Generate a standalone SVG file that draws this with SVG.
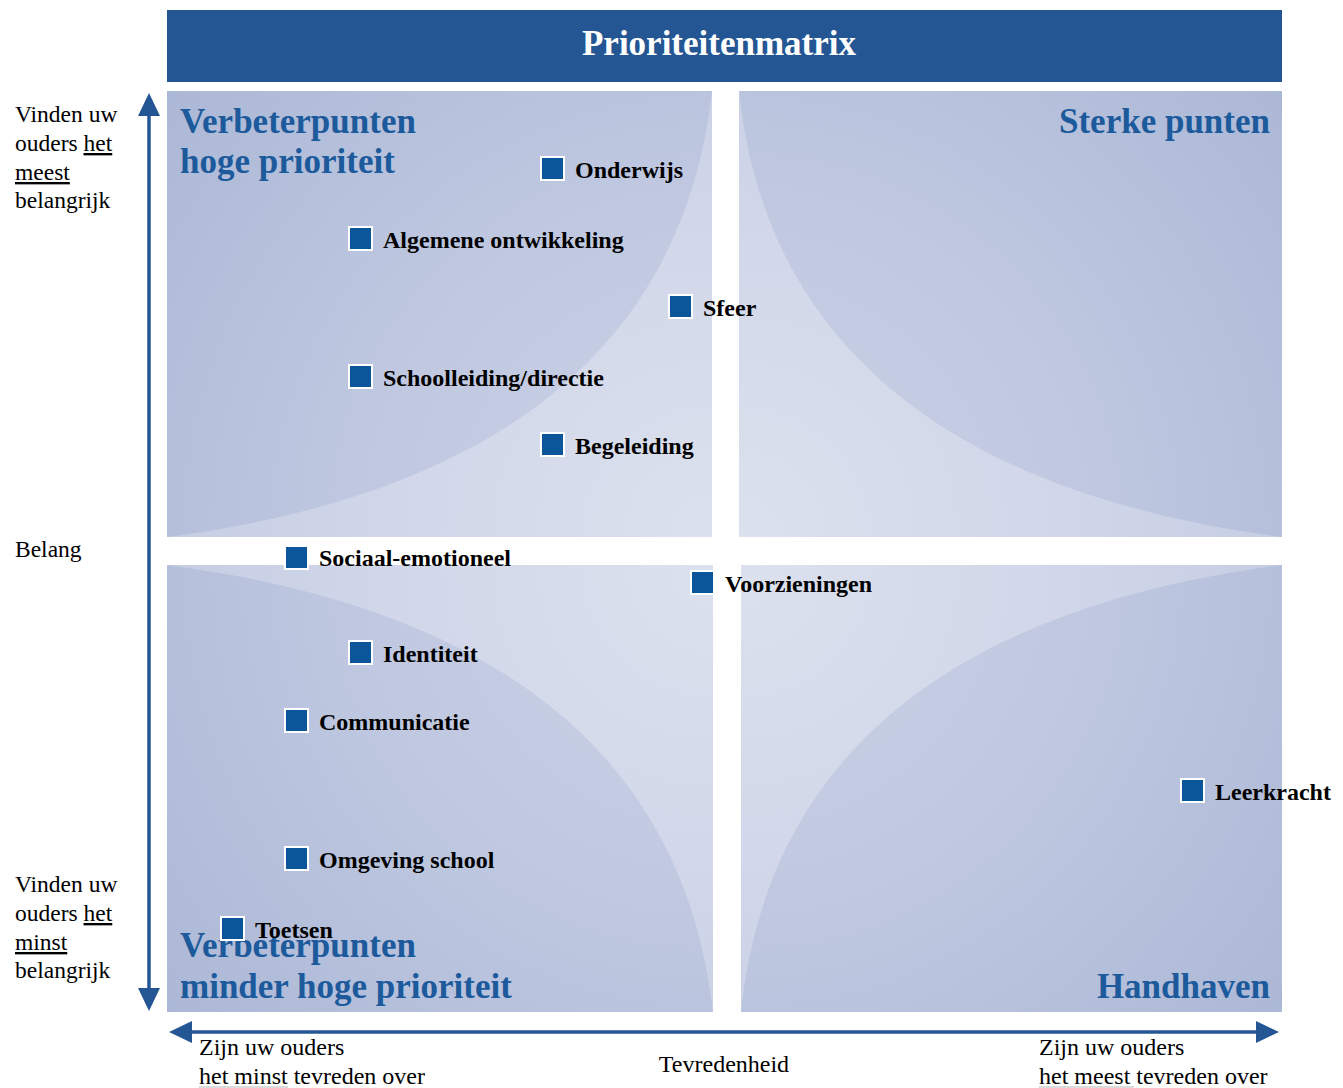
<svg xmlns="http://www.w3.org/2000/svg" width="1343" height="1088" viewBox="0 0 1343 1088">
<style>
  .txt { font-family: "Liberation Serif", "Times New Roman", serif; font-size: 23.5px; fill: #000; }
  .lbl { font-family: "Liberation Serif", "Times New Roman", serif; font-size: 24px; font-weight: bold; fill: #000; }
  .qt { font-family: "Liberation Serif", "Times New Roman", serif; font-size: 35px; font-weight: bold; fill: #1c5a9c; }
  .mk { fill: #0b559a; stroke: #ffffff; stroke-width: 2; }
  .axis { stroke: #245694; stroke-width: 3.5; fill: none; }
  .ul { text-decoration: underline; }
  .gl { stroke: #b8b8b8; stroke-width: 1.2; }
</style>
<defs>
  <marker id="ah" markerUnits="userSpaceOnUse" markerWidth="24" markerHeight="24" viewBox="0 0 24 24" refX="1" refY="12" orient="auto-start-reverse">
    <path d="M0,1 L23,12 L0,23 Z" fill="#245694"/>
  </marker>
  <radialGradient id="gTL" gradientUnits="userSpaceOnUse" cx="712" cy="537" r="720">
    <stop offset="0" stop-color="#ccd3e7"/><stop offset="0.5" stop-color="#bfc8e0"/><stop offset="1" stop-color="#abb7d6"/>
  </radialGradient>
  <radialGradient id="gTR" gradientUnits="userSpaceOnUse" cx="739" cy="537" r="720">
    <stop offset="0" stop-color="#ccd3e7"/><stop offset="0.5" stop-color="#bfc8e0"/><stop offset="1" stop-color="#abb7d6"/>
  </radialGradient>
  <radialGradient id="gBL" gradientUnits="userSpaceOnUse" cx="712" cy="565" r="720">
    <stop offset="0" stop-color="#ccd3e7"/><stop offset="0.5" stop-color="#bfc8e0"/><stop offset="1" stop-color="#abb7d6"/>
  </radialGradient>
  <radialGradient id="gBR" gradientUnits="userSpaceOnUse" cx="741" cy="565" r="720">
    <stop offset="0" stop-color="#ccd3e7"/><stop offset="0.5" stop-color="#bfc8e0"/><stop offset="1" stop-color="#abb7d6"/>
  </radialGradient>
  <radialGradient id="hTL" gradientUnits="userSpaceOnUse" cx="712" cy="537" r="580">
    <stop offset="0" stop-color="#dce1ee"/><stop offset="0.55" stop-color="#d1d7e9"/><stop offset="1" stop-color="#c4cce3"/>
  </radialGradient>
  <radialGradient id="hTR" gradientUnits="userSpaceOnUse" cx="739" cy="537" r="580">
    <stop offset="0" stop-color="#dce1ee"/><stop offset="0.55" stop-color="#d1d7e9"/><stop offset="1" stop-color="#c4cce3"/>
  </radialGradient>
  <radialGradient id="hBL" gradientUnits="userSpaceOnUse" cx="712" cy="565" r="580">
    <stop offset="0" stop-color="#dce1ee"/><stop offset="0.55" stop-color="#d1d7e9"/><stop offset="1" stop-color="#c4cce3"/>
  </radialGradient>
  <radialGradient id="hBR" gradientUnits="userSpaceOnUse" cx="741" cy="565" r="580">
    <stop offset="0" stop-color="#dce1ee"/><stop offset="0.55" stop-color="#d1d7e9"/><stop offset="1" stop-color="#c4cce3"/>
  </radialGradient>
</defs>

<rect x="0" y="0" width="1343" height="1088" fill="#ffffff"/>

<g id="title">
  <rect x="167" y="10" width="1115" height="72" fill="#245694"/>
  <text x="719" y="55" text-anchor="middle" style="font-family: 'Liberation Serif', 'Times New Roman', serif; font-size: 35px; font-weight: bold; fill: #ffffff;">Prioriteitenmatrix</text>
</g>

<g id="quadrant-tl">
  <rect x="167" y="91" width="545" height="446" fill="url(#gTL)"/>
  <path d="M167,537 C450,500 680,380 712,91 L712,537 Z" fill="url(#hTL)"/>
  <text class="qt" x="180" y="133">Verbeterpunten</text>
  <text class="qt" x="180" y="173">hoge prioriteit</text>
</g>
<g id="quadrant-tr">
  <rect x="739" y="91" width="543" height="446" fill="url(#gTR)"/>
  <path d="M1282,537 C999,500 769,380 739,91 L739,537 Z" fill="url(#hTR)"/>
  <text class="qt" x="1270" y="133" text-anchor="end">Sterke punten</text>
</g>
<g id="quadrant-bl">
  <rect x="167" y="565" width="546" height="447" fill="url(#gBL)"/>
  <path d="M167,565 C450,602 680,722 713,1012 L713,565 Z" fill="url(#hBL)"/>
  <text class="qt" x="180" y="957">Verbeterpunten</text>
  <text class="qt" x="180" y="998">minder hoge prioriteit</text>
</g>
<g id="quadrant-br">
  <rect x="741" y="565" width="541" height="447" fill="url(#gBR)"/>
  <path d="M1282,565 C999,602 771,722 741,1012 L741,565 Z" fill="url(#hBR)"/>
  <text class="qt" x="1270" y="998" text-anchor="end">Handhaven</text>
</g>

<g id="connectors">
  <line class="axis" x1="149" y1="115" x2="149" y2="989" marker-start="url(#ah)" marker-end="url(#ah)"/>
  <line class="axis" x1="191" y1="1032" x2="1257" y2="1032" marker-start="url(#ah)" marker-end="url(#ah)"/>
</g>

<g id="axis-labels">
  <text class="txt" x="15" y="122">Vinden uw</text>
  <text class="txt" x="15" y="151">ouders <tspan class="ul">het</tspan></text>
  <text class="txt" x="15" y="180"><tspan class="ul">meest</tspan></text>
  <text class="txt" x="15" y="208">belangrijk</text>

  <text class="txt" x="15" y="557">Belang</text>

  <text class="txt" x="15" y="892">Vinden uw</text>
  <text class="txt" x="15" y="921">ouders <tspan class="ul">het</tspan></text>
  <text class="txt" x="15" y="950"><tspan class="ul">minst</tspan></text>
  <text class="txt" x="15" y="978">belangrijk</text>

  <text class="txt" x="199" y="1055" style="font-size:24px">Zijn uw ouders</text>
  <text class="txt" x="199" y="1084" style="font-size:24px">het minst tevreden over</text>
  <line class="gl" x1="199" y1="1087" x2="288" y2="1087"/>
  <text class="txt" x="724" y="1072" text-anchor="middle" style="font-size:24px">Tevredenheid</text>
  <text class="txt" x="1039" y="1055" style="font-size:24px">Zijn uw ouders</text>
  <text class="txt" x="1039" y="1084" style="font-size:24px">het meest tevreden over</text>
  <line class="gl" x1="1039" y1="1087" x2="1134" y2="1087"/>
</g>

<g id="item-onderwijs"><rect class="mk" x="541" y="157" width="23" height="23"/><text class="lbl" x="575" y="178">Onderwijs</text></g>
<g id="item-algemene-ontwikkeling"><rect class="mk" x="349" y="227" width="23" height="23"/><text class="lbl" x="383" y="248">Algemene ontwikkeling</text></g>
<g id="item-sfeer"><rect class="mk" x="669" y="295" width="23" height="23"/><text class="lbl" x="703" y="316">Sfeer</text></g>
<g id="item-schoolleiding"><rect class="mk" x="349" y="365" width="23" height="23"/><text class="lbl" x="383" y="386">Schoolleiding/directie</text></g>
<g id="item-begeleiding"><rect class="mk" x="541" y="433" width="23" height="23"/><text class="lbl" x="575" y="454">Begeleiding</text></g>
<g id="item-sociaal-emotioneel"><rect class="mk" x="285" y="546" width="23" height="23"/><text class="lbl" x="319" y="566">Sociaal-emotioneel</text></g>
<g id="item-voorzieningen"><rect class="mk" x="691" y="571" width="23" height="23"/><text class="lbl" x="725" y="592">Voorzieningen</text></g>
<g id="item-identiteit"><rect class="mk" x="349" y="641" width="23" height="23"/><text class="lbl" x="383" y="662">Identiteit</text></g>
<g id="item-communicatie"><rect class="mk" x="285" y="709" width="23" height="23"/><text class="lbl" x="319" y="730">Communicatie</text></g>
<g id="item-leerkracht"><rect class="mk" x="1181" y="779" width="23" height="23"/><text class="lbl" x="1215" y="800">Leerkracht</text></g>
<g id="item-omgeving-school"><rect class="mk" x="285" y="847" width="23" height="23"/><text class="lbl" x="319" y="868">Omgeving school</text></g>
<g id="item-toetsen"><rect class="mk" x="221" y="917" width="23" height="23"/><text class="lbl" x="255" y="938">Toetsen</text></g>
</svg>
